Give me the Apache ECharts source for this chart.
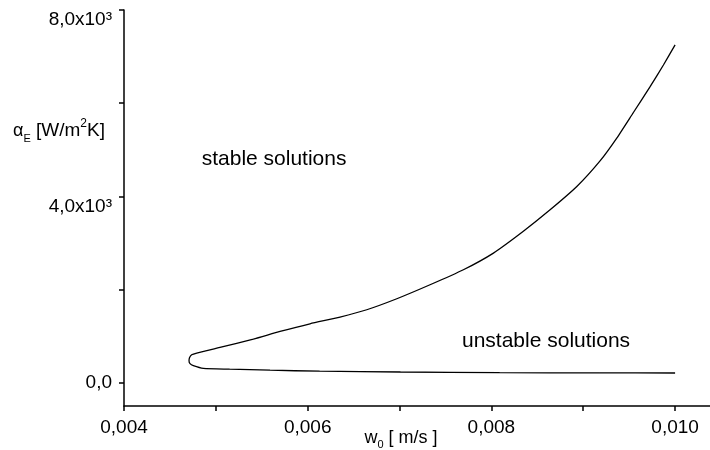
<!DOCTYPE html>
<html>
<head>
<meta charset="utf-8">
<title>stability map</title>
<script src="https://cdn.jsdelivr.net/npm/echarts@6/dist/echarts.min.js"></script>
<style>
  html, body { margin: 0; height: 100%; background: #fff; }
  #main { width: 710px; height: 450px; }
</style>
</head>
<body>
<div id="main"></div>
<script type="text/javascript">
// curve: upper branch from the right end down to the nose, then lower branch
var w0 = [0.01000, 0.009873, 0.009728, 0.009546, 0.009365, 0.009183, 0.008930, 0.008639,
  0.008348, 0.008022, 0.007695, 0.007332, 0.006970, 0.006643, 0.006352,
  0.006025, 0.005699, 0.005408, 0.005045, 0.004792, 0.004737, 0.004713, 0.004708,
  0.004719, 0.004755, 0.004864, 0.005150, 0.005590, 0.006130, 0.007010, 0.008090,
  0.009180, 0.010000];
var alphaE = [7250, 6820, 6355, 5800, 5250, 4760, 4210, 3710,
  3250, 2782, 2424, 2102, 1802, 1566, 1409,
  1265, 1100, 937, 757, 637, 600, 536, 472,
  408, 365, 307, 290, 268, 247, 230, 215,
  210, 208];

var xTicks = [0.004, 0.005, 0.006, 0.007, 0.008, 0.009, 0.010];
var xLabels = [0.004, 0.006, 0.008, 0.010];
var yTicks = [0, 2000, 4000, 6000, 8000];
var yLabels = [0, 4000, 8000];

var notes = ['stable solutions', 'unstable solutions'];
var noteW = [0.005634, 0.008595];
var noteA = [4805, 886];

var FONT = 'Liberation Sans, Arial, sans-serif';

var curve = [];
for (var i = 0; i < w0.length; i++) curve.push([w0[i], alphaE[i]]);
var noteData = [];
for (var j = 0; j < notes.length; j++) noteData.push({ name: notes[j], value: [noteW[j], noteA[j]] });

var myChart = echarts.init(document.getElementById('main'));
var option = {
  animation: false,
  backgroundColor: '#fff',
  grid: { left: 124, right: 0, top: 10, bottom: 44, outerBoundsMode: 'none', containLabel: false },
  xAxis: {
    type: 'value',
    min: 0.004,
    max: 0.01038,
    splitLine: { show: false },
    axisLine: { onZero: false, lineStyle: { color: '#000', width: 1.5 } },
    axisTick: { customValues: xTicks, length: 5, lineStyle: { color: '#000', width: 1.5 } },
    axisLabel: {
      customValues: xLabels,
      margin: 12,
      color: '#000', fontFamily: FONT, fontSize: 19,
      formatter: function (v) { return v.toFixed(3).replace('.', ','); }
    },
    name: '{t|w}{o|0}{t| [ m/s ]}',
    nameLocation: 'middle',
    nameMoveOverlap: false,
    nameGap: 20,
    nameTextStyle: {
      padding: [0, 32, 0, 0],
      rich: {
        t: { fontFamily: FONT, fontSize: 18, color: '#000', lineHeight: 24 },
        o: { fontFamily: FONT, fontSize: 11, color: '#000', verticalAlign: 'bottom', lineHeight: 14 }
      }
    }
  },
  yAxis: {
    type: 'value',
    min: -500,
    max: 8000,
    splitLine: { show: false },
    axisLine: { onZero: false, lineStyle: { color: '#000', width: 1.5 } },
    axisTick: { customValues: yTicks, length: 5, lineStyle: { color: '#000', width: 1.5 } },
    axisLabel: {
      customValues: yLabels,
      margin: 12,
      color: '#000', fontFamily: FONT, fontSize: 19, lineHeight: 20,
      formatter: function (v) {
        if (v === 0) return '0,0';
        // empty first line pushes the text below the tick, as in the original
        return '\n' + (v / 1000).toFixed(1).replace('.', ',') + 'x10\u00b3';
      }
    }
  },
  graphic: [{
    type: 'text',
    left: 13,
    top: 118,
    style: {
      text: '{a|α}{e|E}{t| [W/m}{p|2}{t|K]}',
      rich: {
        a: { fontFamily: FONT, fontSize: 18, color: '#000', lineHeight: 26 },
        e: { fontFamily: FONT, fontSize: 11, color: '#000', verticalAlign: 'bottom', lineHeight: 12 },
        t: { fontFamily: FONT, fontSize: 19, color: '#000', lineHeight: 26 },
        p: { fontFamily: FONT, fontSize: 12, color: '#000', verticalAlign: 'top', lineHeight: 12 }
      }
    }
  }],
  series: [
    {
      type: 'line',
      data: curve,
      smooth: 0.2,
      showSymbol: false,
      silent: true,
      lineStyle: { color: '#000', width: 1.3 }
    },
    {
      type: 'scatter',
      data: noteData,
      symbolSize: 0,
      silent: true,
      itemStyle: { opacity: 1 },
      label: {
        show: true,
        position: 'inside',
        formatter: '{b}',
        color: '#000',
        textBorderWidth: 0,
        fontFamily: FONT,
        fontSize: 21
      }
    }
  ]
};
myChart.setOption(option);
</script>
</body>
</html>
